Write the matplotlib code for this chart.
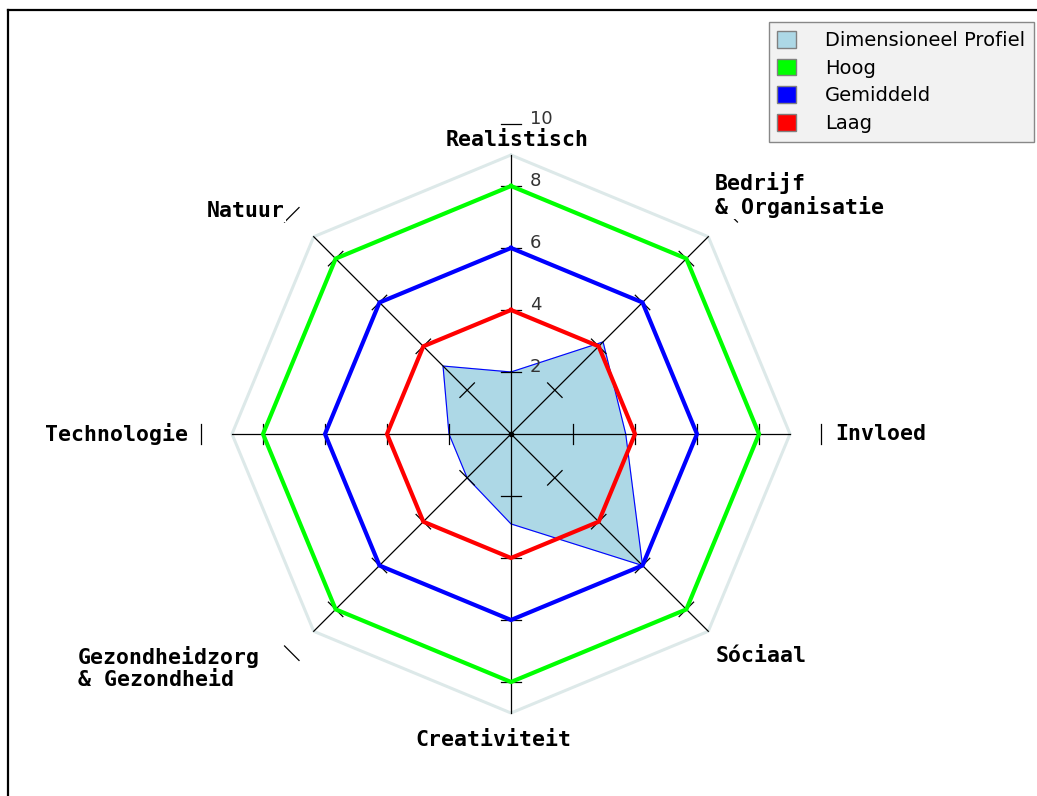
import numpy as np
import matplotlib
matplotlib.use("Agg")
import matplotlib.pyplot as plt
from matplotlib.patches import Patch
from matplotlib.lines import Line2D

# Data
categories = ["Realistisch", "Bedrijf\n& Organisatie", "Invloed", "Sóciaal",
              "Creativiteit", "Gezondheidzorg\n& Gezondheid", "Technologie", "Natuur"]
profiel = [2.0, 4.2, 3.7, 6.0, 2.9, 2.0, 2.0, 3.1]
hoog = [8] * 8
gemiddeld = [6] * 8
laag = [4] * 8
tick_values = [2, 4, 6, 8, 10]
max_axis = 9

n = len(categories)
# clockwise from the top
angles = np.pi / 2 - np.arange(n) * 2 * np.pi / n


def to_xy(values):
    v = np.asarray(values, dtype=float)
    x = v * np.cos(angles)
    y = v * np.sin(angles)
    return np.append(x, x[0]), np.append(y, y[0])


W, H = 1037, 796
fig = plt.figure(figsize=(W / 100, H / 100), dpi=100)
ax = fig.add_axes([0, 0, 1, 1])
px = 31.0  # pixels per unit
cx, cy = 511, 434
ax.set_xlim(-cx / px, (W - cx) / px)
ax.set_ylim(-(H - cy) / px, cy / px)
ax.axis("off")

# outer octagon
ox, oy = to_xy([max_axis] * n)
ax.plot(ox, oy, color="#dde9e9", lw=2.2, zorder=1)

# profile
prx, pry = to_xy(profiel)
ax.fill(prx, pry, color="lightblue", zorder=2)
ax.plot(prx, pry, color="blue", lw=0.8, zorder=2)

# axis lines and ticks
for a in angles:
    ax.plot([0, max_axis * np.cos(a)], [0, max_axis * np.sin(a)], color="black", lw=0.9, zorder=3)
    px_dir = np.array([-np.sin(a), np.cos(a)]) * 0.33
    for t in tick_values:
        bx, by = t * np.cos(a), t * np.sin(a)
        ax.plot([bx - px_dir[0], bx + px_dir[0]], [by - px_dir[1], by + px_dir[1]],
                color="black", lw=0.9, zorder=3)

for vals, col in [(hoog, "#00ff00"), (gemiddeld, "#0000ff"), (laag, "#ff0000")]:
    lx, ly = to_xy(vals)
    ax.plot(lx, ly, color=col, lw=3.0, zorder=4, solid_joinstyle="miter")

ax.plot([0], [0], "o", color="black", ms=3, zorder=5)

# tick labels
for t in tick_values:
    ax.text(0.6, t + 0.17, str(t), fontsize=13, color="#333333", ha="left", va="center", zorder=6)

# category labels
label_pos = [
    (0.19, 9.5, "center"),
    (6.58, 7.71, "left"),
    (10.45, 0.0, "left"),
    (6.61, -7.16, "left"),
    (-0.58, -9.87, "center"),
    (-13.97, -7.55, "left"),
    (-10.42, 0.0, "right"),
    (-7.29, 7.19, "right"),
]
for lab, (lx, ly, ha) in zip(categories, label_pos):
    ax.text(lx, ly, lab, family="DejaVu Sans Mono", fontweight="bold", fontsize=15.5,
            ha=ha, va="center", multialignment="left", linespacing=1.1, zorder=7,
            bbox=dict(facecolor="white", edgecolor="none", pad=0.5))

# frame lines
fig.add_artist(Line2D([8 / W, 8 / W], [0, 1 - 10 / H], color="black", lw=1.6))
fig.add_artist(Line2D([8 / W, 1], [1 - 10 / H, 1 - 10 / H], color="black", lw=1.6))

handles = [Patch(facecolor="lightblue", edgecolor="gray", label="Dimensioneel Profiel"),
           Patch(facecolor="#00ff00", edgecolor="gray", label="Hoog"),
           Patch(facecolor="#0000ff", edgecolor="gray", label="Gemiddeld"),
           Patch(facecolor="#ff0000", edgecolor="gray", label="Laag")]
leg = fig.legend(handles=handles, loc="upper right", bbox_to_anchor=(1034 / W, 1 - 22 / H),
                 fontsize=14, frameon=True, fancybox=False, framealpha=1,
                 facecolor="#f2f2f2", edgecolor="#888888", handlelength=0.95, handleheight=0.95,
                 handletextpad=1.5, labelspacing=0.45, borderpad=0.45, borderaxespad=0)

fig.savefig("out.png", dpi=100)
